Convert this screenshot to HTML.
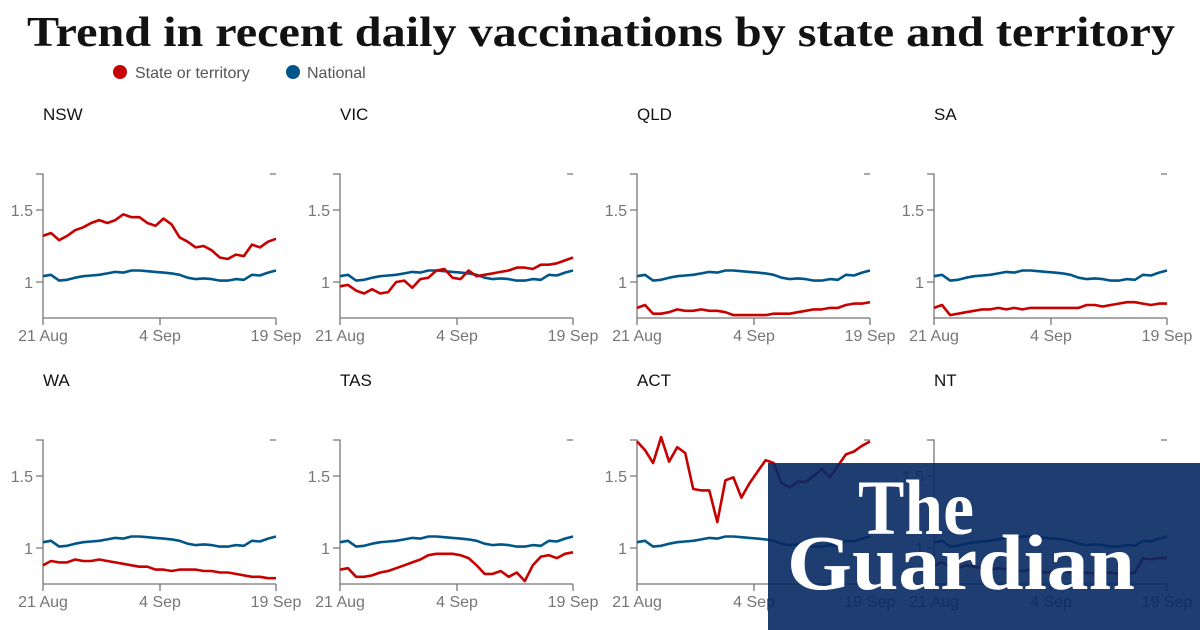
<!DOCTYPE html>
<html><head><meta charset="utf-8"><style>body{margin:0;background:#fff}svg{display:block}</style></head>
<body>
<svg id="s" width="1200" height="630" xmlns="http://www.w3.org/2000/svg" font-family="Liberation Sans, DejaVu Sans, sans-serif">
<text x="27" y="46" font-family="Liberation Serif, serif" font-weight="bold" font-size="42" textLength="1148" lengthAdjust="spacingAndGlyphs" fill="#121212">Trend in recent daily vaccinations by state and territory</text>
<circle cx="120" cy="72" r="7" fill="#c70000"/><text x="135" y="78" font-size="16" fill="#555">State or territory</text>
<circle cx="293" cy="72" r="7" fill="#005689"/><text x="307" y="78" font-size="16" fill="#555">National</text>
<g id="charts"></g>
<rect x="768" y="463" width="432" height="167" fill="#052962" opacity="0.9"/>
<text x="858" y="534" font-family="Liberation Serif, serif" font-weight="bold" font-size="78" textLength="116" lengthAdjust="spacingAndGlyphs" fill="#fff">The</text>
<text x="787" y="589" font-family="Liberation Serif, serif" font-weight="bold" font-size="78" textLength="348" lengthAdjust="spacingAndGlyphs" fill="#fff">Guardian</text>
</svg>
<script>
var nat=[1.04,1.05,1.01,1.015,1.03,1.04,1.045,1.05,1.06,1.07,1.065,1.08,1.08,1.075,1.07,1.065,1.06,1.05,1.03,1.02,1.025,1.02,1.01,1.01,1.02,1.015,1.05,1.045,1.065,1.08];
var d={NSW:[1.32,1.34,1.29,1.32,1.36,1.38,1.41,1.43,1.41,1.43,1.47,1.45,1.45,1.41,1.39,1.44,1.40,1.31,1.28,1.24,1.25,1.22,1.17,1.16,1.19,1.18,1.26,1.24,1.28,1.30],
VIC:[0.97,0.98,0.94,0.92,0.95,0.92,0.93,1.0,1.01,0.96,1.02,1.03,1.08,1.09,1.03,1.02,1.08,1.04,1.05,1.06,1.07,1.08,1.10,1.10,1.09,1.12,1.12,1.13,1.15,1.17],
QLD:[0.82,0.84,0.78,0.78,0.79,0.81,0.80,0.80,0.81,0.80,0.80,0.79,0.77,0.77,0.77,0.77,0.77,0.78,0.78,0.78,0.79,0.80,0.81,0.81,0.82,0.82,0.84,0.85,0.85,0.86],
SA:[0.82,0.84,0.77,0.78,0.79,0.80,0.81,0.81,0.82,0.81,0.82,0.81,0.82,0.82,0.82,0.82,0.82,0.82,0.82,0.84,0.84,0.83,0.84,0.85,0.86,0.86,0.85,0.84,0.85,0.85],
WA:[0.88,0.91,0.90,0.90,0.92,0.91,0.91,0.92,0.91,0.90,0.89,0.88,0.87,0.87,0.85,0.85,0.84,0.85,0.85,0.85,0.84,0.84,0.83,0.83,0.82,0.81,0.80,0.80,0.79,0.79],
TAS:[0.85,0.86,0.80,0.80,0.81,0.83,0.84,0.86,0.88,0.90,0.92,0.95,0.96,0.96,0.96,0.95,0.93,0.88,0.82,0.82,0.84,0.80,0.83,0.77,0.88,0.94,0.95,0.93,0.96,0.97],
ACT:[1.74,1.68,1.59,1.77,1.60,1.70,1.66,1.41,1.40,1.40,1.18,1.47,1.49,1.35,1.45,1.53,1.61,1.59,1.45,1.42,1.46,1.46,1.50,1.55,1.49,1.57,1.65,1.67,1.71,1.74],
NT:[0.88,0.90,0.87,0.86,0.88,0.87,0.86,0.85,0.86,0.85,0.84,0.84,0.85,0.84,0.83,0.84,0.84,0.83,0.82,0.83,0.82,0.82,0.83,0.82,0.82,0.83,0.93,0.92,0.93,0.93]};
var names=["NSW","VIC","QLD","SA","WA","TAS","ACT","NT"],h="";
names.forEach(function(n,i){
 var ox=(i%4)*297, oy=i<4?0:266, ax=43+ox, y1=282+oy;
 function Y(v){return y1-(v-1)*144;}
 h+='<text x="'+ax+'" y="'+(120+oy)+'" font-size="17" fill="#121212">'+n+'</text>';
 h+='<path d="M'+(ax-7)+' '+(174+oy)+'H'+ax+'V'+(318+oy)+'H'+(ax+233)+'M'+(ax-7)+' '+Y(1.5)+'H'+ax+'M'+(ax-7)+' '+y1+'H'+ax+'M'+(ax+117)+' '+(318+oy)+'v7M'+(ax+233)+' '+(174+oy)+'h-6M'+(ax+233)+' '+(318+oy)+'v7M'+ax+' '+(318+oy)+'v7" stroke="#767676" fill="none" stroke-width="1.3"/>';
 h+='<text x="'+(ax-10)+'" y="'+(Y(1.5)+6)+'" font-size="16" fill="#767676" text-anchor="end">1.5</text>';
 h+='<text x="'+(ax-10)+'" y="'+(y1+6)+'" font-size="16" fill="#767676" text-anchor="end">1</text>';
 [["21 Aug",0],["4 Sep",117],["19 Sep",233]].forEach(function(t){h+='<text x="'+(ax+t[1])+'" y="'+(341+oy)+'" font-size="16" fill="#767676" text-anchor="middle">'+t[0]+'</text>';});
 function line(a,c){var p=a.map(function(v,k){return (ax+k*233/29).toFixed(1)+','+Y(v).toFixed(1)}).join(' ');return '<polyline points="'+p+'" fill="none" stroke="'+c+'" stroke-width="2.6" stroke-linejoin="round"/>';}
 h+=line(nat,"#005689")+line(d[n],"#c70000");
});
document.getElementById("charts").innerHTML=h;
</script>
</body></html>
